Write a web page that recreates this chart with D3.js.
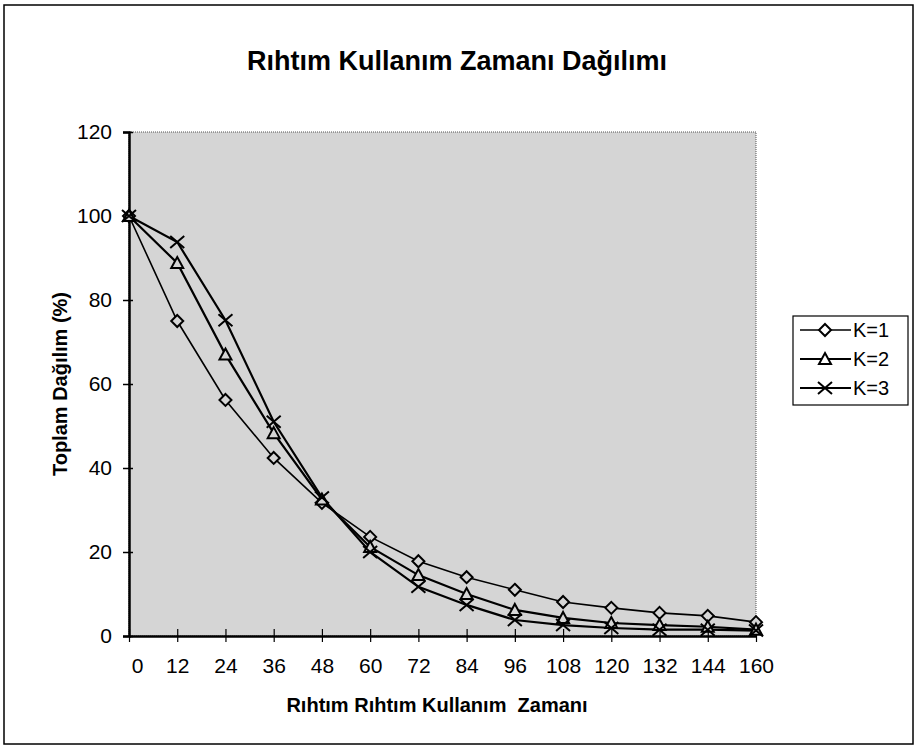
<!DOCTYPE html>
<html>
<head>
<meta charset="utf-8">
<script src="https://cdn.jsdelivr.net/npm/d3@7"></script>
<style>
  body { margin: 0; background: #fff; }
  text { font-family: "Liberation Sans", Arial, sans-serif; fill: #000; }
</style>
</head>
<body>
<svg id="vis1" width="918" height="749"></svg>
<script>
// x categories (hours) and the three series
var hours = ["0", "12", "24", "36", "48", "60", "72", "84", "96", "108", "120", "132", "144", "160"];
var k1 = [100, 75, 56.2, 42.4, 31.7, 23.6, 17.8, 14, 11, 8.1, 6.7, 5.5, 4.8, 3.3];
var k2 = [100, 88.8, 67, 48.3, 32.5, 21.2, 14.5, 10, 6.2, 4.3, 3.1, 2.6, 2.2, 1.5];
var k3 = [100, 93.8, 75.2, 51, 33, 20, 11.7, 7.4, 3.8, 2.6, 1.9, 1.5, 1.5, 1.3];
var seriesNames = ["K=1", "K=2", "K=3"];
var yTicks = [0, 20, 40, 60, 80, 100, 120];

window.onload = function(){
    drawChart();
};

function drawChart(){
    let svg = d3.select("#vis1");

    // plot area (Excel style gray box)
    let left = 129, right = 756, top = 132, bottom = 636;
    let bg = "#d5d5d5";

    let xScale = d3.scalePoint().domain(hours).range([left, right]);
    let yScale = d3.scaleLinear().domain([0, 120]).range([bottom, top]);

    // outer frame
    svg.append("rect")
        .attr("x", 4).attr("y", 5).attr("width", 909).attr("height", 739)
        .attr("fill", "none").attr("stroke", "#000").attr("stroke-width", 1.5);

    svg.append("text")
        .attr("x", 457).attr("y", 70)
        .attr("text-anchor", "middle")
        .style("font-size", "27px").style("font-weight", "bold")
        .text("Rıhtım Kullanım Zamanı Dağılımı");

    svg.append("rect")
        .attr("x", left).attr("y", top)
        .attr("width", right - left).attr("height", bottom - top)
        .attr("fill", bg)
        .attr("stroke", "#555").attr("stroke-width", 1).attr("stroke-dasharray", "1,1");

    // y axis
    let yAxis = d3.axisLeft(yScale).tickValues(yTicks).tickSize(6).tickPadding(8);
    let gy = svg.append("g").attr("transform", "translate(" + left + ",0)").call(yAxis);
    gy.attr("font-size", null).attr("font-family", null);
    gy.select(".domain").attr("stroke-width", 2.5);
    gy.selectAll(".tick line").attr("stroke-width", 1.5).attr("x2", 4).attr("x1", -6);
    gy.selectAll(".tick text").style("font-size", "21px").attr("x", -17);

    // x axis, ticks cross the axis line
    let xAxis = d3.axisBottom(xScale).tickSize(6).tickPadding(16).tickSizeOuter(0);
    let gx = svg.append("g").attr("transform", "translate(0," + bottom + ")").call(xAxis);
    gx.attr("font-size", null).attr("font-family", null);
    gx.select(".domain").attr("stroke-width", 2.5);
    gx.selectAll(".tick line").attr("stroke-width", 1.2).attr("y1", -7).attr("y2", 6);
    gx.selectAll(".tick text").style("font-size", "21px")
        .attr("dx", function(d, i){ return i == 0 ? 8 : 0; });

    // axis titles
    svg.append("text")
        .attr("transform", "translate(67," + ((top + bottom) / 2) + ") rotate(-90)")
        .attr("text-anchor", "middle")
        .style("font-size", "20px").style("font-weight", "bold")
        .text("Toplam Dağılım (%)");

    svg.append("text")
        .attr("x", 437).attr("y", 712)
        .attr("text-anchor", "middle")
        .attr("xml:space", "preserve").style("white-space", "pre")
        .style("font-size", "20px").style("font-weight", "bold")
        .text("Rıhtım Rıhtım Kullanım  Zamanı");

    let allSeries = [k1, k2, k3];
    let markers = ["diamond", "triangle", "cross"];
    let widths = [1.6, 2.2, 2.2];

    let line = d3.line()
        .x(function(d, i){ return xScale(hours[i]); })
        .y(function(d){ return yScale(d); });

    allSeries.forEach(function(vals, s){
        svg.append("path")
            .attr("d", line(vals))
            .attr("fill", "none").attr("stroke", "#000").attr("stroke-width", widths[s]);
    });

    allSeries.forEach(function(vals, s){
        svg.selectAll(".m" + s).data(vals)
            .enter()
            .append("path")
            .attr("class", "m" + s)
            .attr("transform", function(d, i){
                return "translate(" + xScale(hours[i]) + "," + yScale(d) + ")";
            })
            .attr("d", markerPath(markers[s]))
            .attr("fill", markers[s] == "cross" ? "none" : bg)
            .attr("stroke", "#000").attr("stroke-width", 2);
    });

    // legend
    let lg = svg.append("g").attr("transform", "translate(793,316)");
    lg.append("rect").attr("width", 115).attr("height", 89)
        .attr("fill", "#fff").attr("stroke", "#000").attr("stroke-width", 1.2);
    seriesNames.forEach(function(name, s){
        let y = 14 + s * 29;
        lg.append("line").attr("x1", 7).attr("x2", 58).attr("y1", y).attr("y2", y)
            .attr("stroke", "#000").attr("stroke-width", widths[s]);
        lg.append("path").attr("transform", "translate(32," + y + ")")
            .attr("d", markerPath(markers[s]))
            .attr("fill", markers[s] == "cross" ? "none" : "#fff")
            .attr("stroke", "#000").attr("stroke-width", 2);
        lg.append("text").attr("x", 60).attr("y", y + 7)
            .style("font-size", "20px").text(name);
    });
}

function markerPath(type){
    if (type == "diamond") return "M0,-6L6,0L0,6L-6,0Z";
    if (type == "triangle") return "M0,-6L6,5L-6,5Z";
    return "M-7,-6L7,6M-7,6L7,-6";
}
</script>
</body>
</html>
